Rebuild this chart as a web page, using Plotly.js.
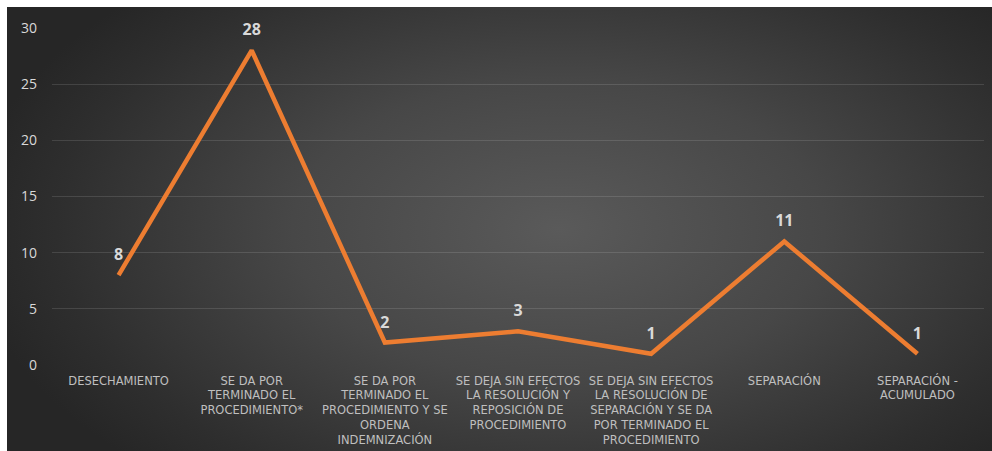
<!DOCTYPE html>
<html>
<head>
<meta charset="utf-8">
<script src="https://cdn.plot.ly/plotly-3.0.1.min.js"></script>
<style>
  html, body { margin: 0; padding: 0; background: #ffffff; }
  #wrap { position: relative; width: 992px; height: 451px; overflow: hidden; }
  #bg { position: absolute; left: 7px; top: 7px; width: 985px; height: 444px;
        background: radial-gradient(ellipse 60% 75% at 56% 50%, #5a5a5a 0%, #474747 45%, #2e2e2e 85%, #262626 100%); }
  #chart { position: absolute; left: 0; top: 0; width: 992px; height: 451px; }
</style>
</head>
<body>
<div id="wrap">
  <div id="bg"></div>
  <div id="chart"></div>
</div>
<script>
const categories = [
  "DESECHAMIENTO",
  "SE DA POR<br>TERMINADO EL<br>PROCEDIMIENTO*",
  "SE DA POR<br>TERMINADO EL<br>PROCEDIMIENTO Y SE<br>ORDENA<br>INDEMNIZACIÓN",
  "SE DEJA SIN EFECTOS<br>LA RESOLUCIÓN Y<br>REPOSICIÓN DE<br>PROCEDIMIENTO",
  "SE DEJA SIN EFECTOS<br>LA RESOLUCIÓN DE<br>SEPARACIÓN Y SE DA<br>POR TERMINADO EL<br>PROCEDIMIENTO",
  "SEPARACIÓN",
  "SEPARACIÓN -<br>ACUMULADO"
];
const values = [8, 28, 2, 3, 1, 11, 1];
const yTicks = [0, 5, 10, 15, 20, 25, 30];

const trace = {
  x: categories,
  y: values,
  type: 'scatter',
  mode: 'lines+markers+text',
  line: { color: '#ED7D31', width: 4.5 },
  marker: { size: 16, color: 'rgba(0,0,0,0)' },
  text: values.map(String),
  textposition: 'top center',
  textfont: { family: 'Open Sans, sans-serif', size: 16, color: '#d9d9d9', weight: 'bold' },
  hoverinfo: 'none',
  cliponaxis: false
};

const layout = {
  width: 992,
  height: 451,
  margin: { l: 52, r: 8, t: 28, b: 86 },
  paper_bgcolor: 'rgba(0,0,0,0)',
  plot_bgcolor: 'rgba(0,0,0,0)',
  showlegend: false,
  xaxis: {
    type: 'category',
    range: [-0.5, categories.length - 0.5],
    showgrid: false,
    zeroline: false,
    showline: false,
    ticks: '',
    tickangle: 0,
    ticklabelstandoff: 7,
    tickfont: { family: 'DejaVu Sans, sans-serif', size: 11.5, color: '#bfbfbf' },
    automargin: false
  },
  yaxis: {
    range: [0, 30],
    tickvals: yTicks,
    ticktext: yTicks.map(String),
    showgrid: true,
    gridcolor: 'rgba(255,255,255,0.12)',
    gridwidth: 1,
    zeroline: false,
    showline: false,
    ticks: '',
    ticklabelstandoff: 14,
    tickfont: { family: 'Open Sans, sans-serif', size: 14, color: '#d9d9d9' },
    automargin: false
  }
};

Plotly.newPlot('chart', [trace], layout, { staticPlot: true, displayModeBar: false });
</script>
</body>
</html>
